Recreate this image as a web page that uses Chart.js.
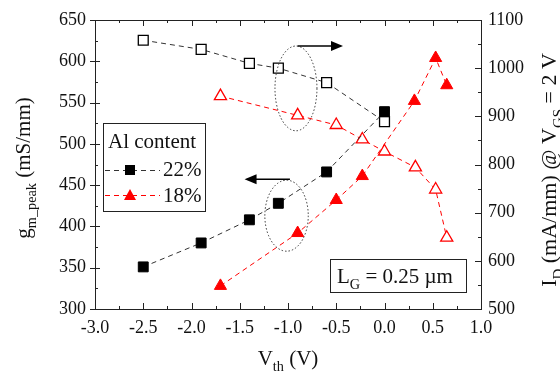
<!DOCTYPE html>
<html>
<head>
<meta charset="utf-8">
<script src="https://cdn.jsdelivr.net/npm/chart.js@4.4.1/dist/chart.umd.min.js"></script>
<style>
  body { margin: 0; background: #fff; }
</style>
</head>
<body>
<canvas id="myChart" width="560" height="374"></canvas>
<script>
// values
var vth22 = [-2.5, -1.9, -1.4, -1.1, -0.6, 0.0];
var gm22 = [351, 380, 408, 428, 466, 539];
var id22 = [1058, 1039, 1010, 1000, 970, 889];

var vth18gm = [-1.7, -0.9, -0.5, -0.23, 0.31, 0.53, 0.645];
var gm18 = [328, 392, 432, 461, 552, 604, 571];
var vth18id = [-1.7, -0.9, -0.5, -0.23, 0.0, 0.32, 0.53, 0.645];
var id18 = [942, 902, 882, 852, 827, 794, 748, 648];

var xTicks = [-3.0, -2.5, -2.0, -1.5, -1.0, -0.5, 0.0, 0.5, 1.0];
var gmTicks = [300, 350, 400, 450, 500, 550, 600, 650];
var idTicks = [500, 600, 700, 800, 900, 1000, 1100];

var RED = '#ff0000';
var SERIF = '"Liberation Serif", "DejaVu Serif", serif';

function pts(xs, ys) {
  return xs.map(function (x, i) { return { x: x, y: ys[i] }; });
}

// text with subscripts: parts = [[text, isSub], ...]
function partsWidth(ctx, parts, size) {
  var w = 0;
  parts.forEach(function (p) {
    ctx.font = (p[1] ? size * 0.68 : size) + 'px ' + SERIF;
    w += ctx.measureText(p[0]).width;
  });
  return w;
}
function drawParts(ctx, parts, x, y, size) {
  parts.forEach(function (p) {
    var s = p[1] ? size * 0.68 : size;
    ctx.font = s + 'px ' + SERIF;
    ctx.fillText(p[0], x, p[1] ? y + size * 0.3 : y);
    x += ctx.measureText(p[0]).width;
  });
}

function arrow(ctx, x1, y1, x2, y2) {
  var dir = x2 > x1 ? 1 : -1;
  ctx.beginPath();
  ctx.moveTo(x1, y1);
  ctx.lineTo(x2 - dir * 10, y2);
  ctx.stroke();
  ctx.beginPath();
  ctx.moveTo(x2, y2);
  ctx.lineTo(x2 - dir * 12, y2 - 5);
  ctx.lineTo(x2 - dir * 12, y2 + 5);
  ctx.closePath();
  ctx.fill();
}

var decorations = {
  id: 'decorations',
  afterDraw: function (chart) {
    var ctx = chart.ctx;
    var a = chart.chartArea;
    var sx = chart.scales.x, sl = chart.scales.y, sr = chart.scales.y2;
    ctx.save();
    ctx.strokeStyle = '#222';
    ctx.fillStyle = '#222';
    ctx.lineWidth = 1;

    // frame top line
    ctx.beginPath();
    ctx.moveTo(a.left, a.top + 0.5);
    ctx.lineTo(a.right, a.top + 0.5);
    ctx.stroke();

    // tick marks
    ctx.beginPath();
    for (var v = -3; v <= 1.001; v += 0.25) {
      var px = Math.round(sx.getPixelForValue(v)) + 0.5;
      var major = Math.abs(v * 2 - Math.round(v * 2)) < 0.01;
      var len = major ? 6 : 3;
      ctx.moveTo(px, a.bottom); ctx.lineTo(px, a.bottom - len);
      ctx.moveTo(px, a.top); ctx.lineTo(px, a.top + len);
    }
    for (var g = 300; g <= 650; g += 25) {
      var py = Math.round(sl.getPixelForValue(g)) + 0.5;
      if (g % 50 === 0) {
        ctx.moveTo(a.left - 5, py); ctx.lineTo(a.left + 5, py);
      } else {
        ctx.moveTo(a.left, py); ctx.lineTo(a.left + 3, py);
      }
    }
    for (var d = 500; d <= 1100; d += 50) {
      var qy = Math.round(sr.getPixelForValue(d)) + 0.5;
      var l2 = d % 100 === 0 ? 6 : 3;
      ctx.moveTo(a.right, qy); ctx.lineTo(a.right - l2, qy);
    }
    ctx.stroke();

    // dotted ellipses
    ctx.setLineDash([1.5, 2]);
    ctx.strokeStyle = '#333';
    var e1x1 = sx.getPixelForValue(-1.135), e1x2 = sx.getPixelForValue(-0.70);
    var e1y1 = sr.getPixelForValue(1046), e1y2 = sr.getPixelForValue(870);
    ctx.beginPath();
    ctx.ellipse((e1x1 + e1x2) / 2, (e1y1 + e1y2) / 2, (e1x2 - e1x1) / 2, (e1y2 - e1y1) / 2, 0, 0, Math.PI * 2);
    ctx.stroke();
    var e2x1 = sx.getPixelForValue(-1.24), e2x2 = sx.getPixelForValue(-0.79);
    var e2y1 = sl.getPixelForValue(456), e2y2 = sl.getPixelForValue(370);
    ctx.beginPath();
    ctx.ellipse((e2x1 + e2x2) / 2, (e2y1 + e2y2) / 2, (e2x2 - e2x1) / 2, (e2y2 - e2y1) / 2, 0, 0, Math.PI * 2);
    ctx.stroke();
    ctx.setLineDash([]);

    // arrows
    ctx.strokeStyle = '#000';
    ctx.fillStyle = '#000';
    ctx.lineWidth = 1.5;
    arrow(ctx, sx.getPixelForValue(-0.90), sr.getPixelForValue(1046), sx.getPixelForValue(-0.43), sr.getPixelForValue(1046));
    arrow(ctx, sx.getPixelForValue(-0.98), sl.getPixelForValue(457), sx.getPixelForValue(-1.45), sl.getPixelForValue(457));
    ctx.lineWidth = 1;

    // legend box
    ctx.fillStyle = '#fff';
    ctx.fillRect(103, 123, 103, 89);
    ctx.strokeStyle = '#222';
    ctx.strokeRect(103.5, 123.5, 102, 88);
    ctx.fillStyle = '#111';
    ctx.textBaseline = 'alphabetic';
    ctx.textAlign = 'left';
    ctx.font = '21px ' + SERIF;
    ctx.fillText('Al content', 108, 148);
    ctx.fillText('22%', 163, 176);
    ctx.fillText('18%', 163, 202);
    ctx.setLineDash([5, 4]);
    ctx.strokeStyle = '#333';
    ctx.beginPath(); ctx.moveTo(105, 170.5); ctx.lineTo(160, 170.5); ctx.stroke();
    ctx.strokeStyle = RED;
    ctx.beginPath(); ctx.moveTo(105, 195.5); ctx.lineTo(160, 195.5); ctx.stroke();
    ctx.setLineDash([]);
    ctx.fillStyle = '#000';
    ctx.fillRect(125, 165, 10, 10);
    ctx.fillStyle = RED;
    ctx.beginPath();
    ctx.moveTo(130, 189); ctx.lineTo(136, 200); ctx.lineTo(124, 200); ctx.closePath();
    ctx.fill();

    // gate length box
    ctx.fillStyle = '#fff';
    ctx.fillRect(330, 259, 137, 34);
    ctx.strokeStyle = '#222';
    ctx.strokeRect(330.5, 259.5, 136, 33);
    ctx.fillStyle = '#111';
    drawParts(ctx, [['L', 0], ['G', 1], [' = 0.25 \u00b5m', 0]], 337, 283, 21);

    // axis titles
    var xt = [['V', 0], ['th', 1], [' (V)', 0]];
    var w = partsWidth(ctx, xt, 21);
    drawParts(ctx, xt, (a.left + a.right) / 2 - w / 2, 365, 21);

    var lt = [['g', 0], ['m_peak', 1], [' (mS/mm)', 0]];
    ctx.save();
    ctx.translate(30, 168);
    ctx.rotate(-Math.PI / 2);
    w = partsWidth(ctx, lt, 21);
    drawParts(ctx, lt, -w / 2, 0, 21);
    ctx.restore();

    var rt = [['I', 0], ['D', 1], [' (mA/mm) @ V', 0], ['GS', 1], [' = 2 V', 0]];
    ctx.save();
    ctx.translate(556, 170);
    ctx.rotate(-Math.PI / 2);
    w = partsWidth(ctx, rt, 22);
    drawParts(ctx, rt, -w / 2, 0, 22);
    ctx.restore();

    ctx.restore();
  }
};

var plain = function (v) { return String(v); };

var ctx = document.getElementById('myChart');
var myChart = new Chart(ctx, {
  type: 'scatter',
  data: {
    datasets: [
      {
        label: 'gm 22%',
        data: pts(vth22, gm22),
        yAxisID: 'y',
        showLine: true,
        borderColor: '#333',
        borderWidth: 1,
        borderDash: [5, 4],
        pointStyle: 'rect',
        pointRadius: 7,
        pointBackgroundColor: '#000',
        pointBorderColor: '#000',
        pointBorderWidth: 1
      },
      {
        label: 'ID 22%',
        data: pts(vth22, id22),
        yAxisID: 'y2',
        showLine: true,
        borderColor: '#333',
        borderWidth: 1,
        borderDash: [5, 4],
        pointStyle: 'rect',
        pointRadius: 7,
        pointBackgroundColor: '#fff',
        pointBorderColor: '#000',
        pointBorderWidth: 1.3
      },
      {
        label: 'gm 18%',
        data: pts(vth18gm, gm18),
        yAxisID: 'y',
        showLine: true,
        borderColor: RED,
        borderWidth: 1,
        borderDash: [5, 4],
        pointStyle: 'triangle',
        pointRadius: 7,
        pointBackgroundColor: RED,
        pointBorderColor: RED,
        pointBorderWidth: 1
      },
      {
        label: 'ID 18%',
        data: pts(vth18id, id18),
        yAxisID: 'y2',
        showLine: true,
        borderColor: RED,
        borderWidth: 1,
        borderDash: [5, 4],
        pointStyle: 'triangle',
        pointRadius: 7,
        pointBackgroundColor: '#fff',
        pointBorderColor: RED,
        pointBorderWidth: 1.3
      }
    ]
  },
  options: {
    responsive: false,
    animation: false,
    devicePixelRatio: 1,
    layout: { padding: { top: 20, left: 0, right: 0, bottom: 0 } },
    plugins: { legend: { display: false }, tooltip: { enabled: false } },
    scales: {
      x: {
        type: 'linear',
        min: -3, max: 1,
        afterFit: function (s) { s.height = 65; },
        afterBuildTicks: function (s) { s.ticks = xTicks.map(function (v) { return { value: v }; }); },
        grid: { display: false, drawTicks: false },
        border: { display: true, color: '#222', width: 1 },
        ticks: {
          padding: 8,
          color: '#111',
          font: { family: SERIF, size: 18 },
          callback: function (v) { return v.toFixed(1); }
        }
      },
      y: {
        type: 'linear',
        position: 'left',
        min: 300, max: 650,
        afterFit: function (s) { s.width = 95; },
        afterBuildTicks: function (s) { s.ticks = gmTicks.map(function (v) { return { value: v }; }); },
        grid: { display: false, drawTicks: false },
        border: { display: true, color: '#222', width: 1 },
        ticks: { padding: 9, color: '#111', font: { family: SERIF, size: 18 }, callback: plain }
      },
      y2: {
        type: 'linear',
        position: 'right',
        min: 500, max: 1100,
        afterFit: function (s) { s.width = 79; },
        afterBuildTicks: function (s) { s.ticks = idTicks.map(function (v) { return { value: v }; }); },
        grid: { display: false, drawTicks: false },
        border: { display: true, color: '#222', width: 1 },
        ticks: { padding: 7, color: '#111', font: { family: SERIF, size: 18 }, callback: plain }
      }
    }
  },
  plugins: [decorations]
});
</script>
</body>
</html>
